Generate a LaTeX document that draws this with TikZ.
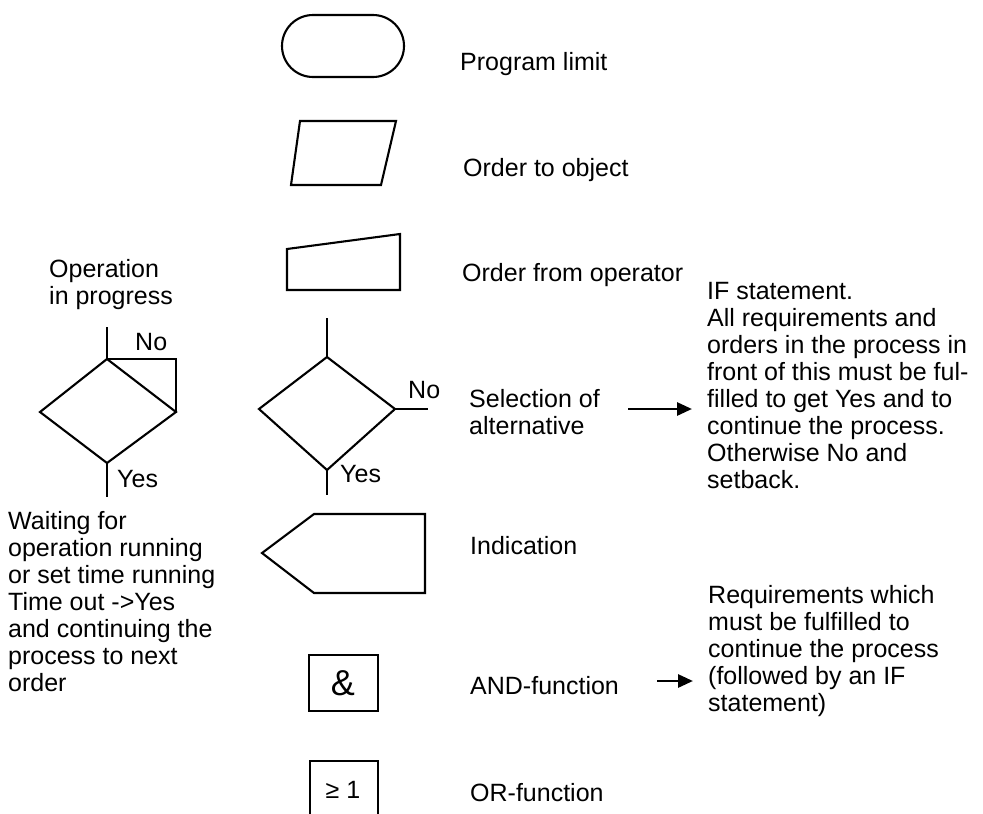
\documentclass[tikz,border=0pt]{standalone}
\usepackage{fontspec}
\setmainfont{Liberation Sans}
\usetikzlibrary{arrows.meta}
\tikzset{
  symbol/.style={line width=2.1pt, line join=miter},
  stem/.style={line width=2.8pt},
  txt/.style={anchor=base west, inner sep=0pt, align=left,
    font=\fontsize{25}{27}\selectfont},
  pointer/.style={line width=2.8pt, -{Triangle[length=15pt, width=13pt]}}
}
\begin{document}
\begin{tikzpicture}[x=1pt, y=-1pt]
\useasboundingbox (0,0) rectangle (983,814);
% Symbols
    \draw[symbol, rounded corners=31pt] (282,15) rectangle (404,77);
    \draw[symbol] (300,121) -- (396,121) -- (381,185) -- (291,185) -- cycle;
    \draw[symbol] (287,249) -- (400,234) -- (400,290) -- (287,290) -- cycle;
    \draw[symbol] (327,357) -- (395,409) -- (327,470) -- (259,409) -- cycle;
    \draw[symbol] (262,553) -- (314,514) -- (425,514) -- (425,593) -- (314,593) -- cycle;
    \draw[symbol] (309,655) rectangle (378,711);
    \draw[symbol] (310,830) -- (310,761) -- (378,761) -- (378,830);
% Waiting symbol
    \draw[symbol] (107,359) -- (176,412) -- (107,463) -- (40,412) -- cycle;
    \draw[symbol] (107,359) -- (176,359) -- (176,412);
% Stems
    \draw[stem] (107,327) -- (107,359);
    \draw[stem] (107,463) -- (107,497);
    \draw[stem] (327,318) -- (327,357);
    \draw[stem] (327,470) -- (327,495);
    \draw[stem] (395,409) -- (428,409);
% Texts in symbols
    \node[inner sep=0pt, font=\fontsize{36}{40}\selectfont] (andsign) at (343,683) {\&};
    \node[inner sep=0pt, font=\fontsize{25}{27}\selectfont] (orsign) at (343,790) {≥ 1};
    \node[txt] (nowait) at (135,350) {No};
    \node[txt] (yeswait) at (117,487) {Yes};
    \node[txt] (nosel) at (408,398) {No};
    \node[txt] (yessel) at (340,482) {Yes};
% Labels (base = last line)
    \node[txt] (limit) at (460,70) {Program limit};
    \node[txt] (toobj) at (463,176) {Order to object};
    \node[txt] (fromop) at (462,281) {Order from operator};
    \node[txt] (select) at (469,434) {Selection of\\alternative};
    \node[txt] (indic) at (470,554) {Indication};
    \node[txt] (andfn) at (470,694) {AND-function};
    \node[txt] (orfn) at (470,801) {OR-function};
    \node[txt] (inprog) at (49,304) {Operation\\in progress};
    \node[txt] (waitnote) at (8,691) {Waiting for\\operation running\\or set time running\\Time out ->Yes\\and continuing the\\process to next\\order};
    \node[txt] (ifnote) at (707,488) {IF statement.\\All requirements and\\orders in the process in\\front of this must be ful-\\filled to get Yes and to\\continue the process.\\Otherwise No and\\setback.};
    \node[txt] (reqnote) at (708,711) {Requirements which\\must be fulfilled to\\continue the process\\(followed by an IF\\statement)};
% Arrows
    \coordinate (selend) at (628,409);
    \coordinate (ifstart) at (692,409);
    \coordinate (andend) at (657,681);
    \coordinate (reqstart) at (693,681);
    \draw[pointer] (selend) -- (ifstart);
    \draw[pointer] (andend) -- (reqstart);
\end{tikzpicture}
\end{document}
